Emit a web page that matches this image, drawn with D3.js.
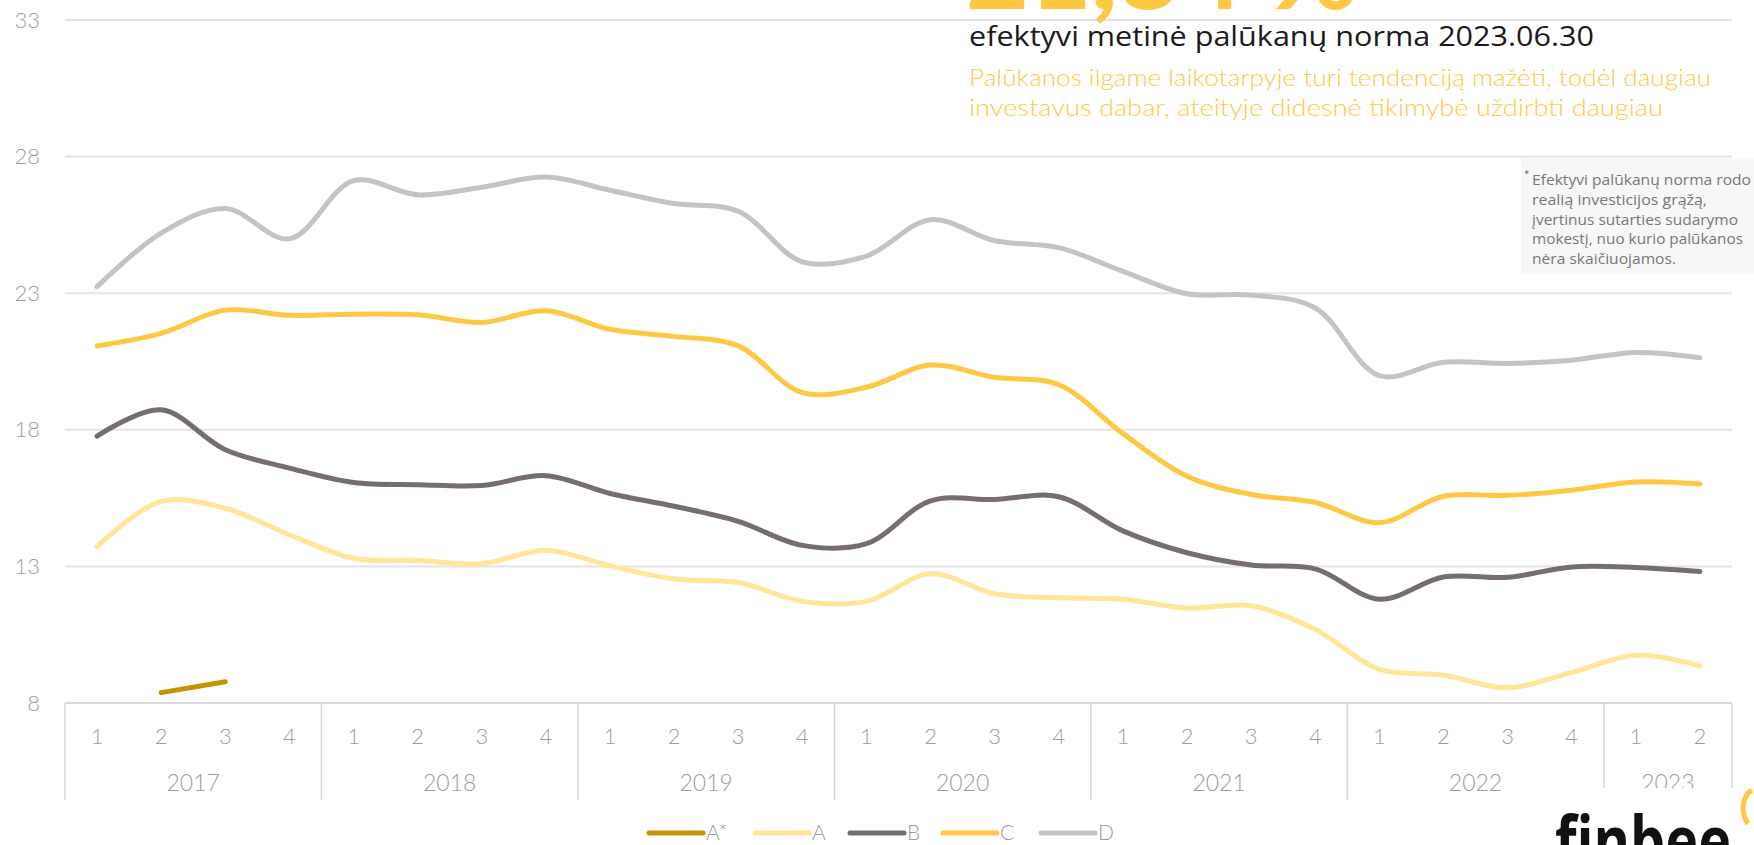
<!DOCTYPE html>
<html><head><meta charset="utf-8">
<script src="https://cdn.jsdelivr.net/npm/d3@7"></script>
<style>
html,body{margin:0;padding:0;background:#fff;overflow:hidden}
svg{display:block}
</style></head>
<body>
<svg id="c" width="1754" height="845"></svg>
<script>
const years = ["2017","2018","2019","2020","2021","2022","2023"];
const quarters = ["1","2","3","4","1","2","3","4","1","2","3","4","1","2","3","4","1","2","3","4","1","2","3","4","1","2"];
const yTicks = [8,13,18,23,28,33];
const seriesNames = ["A*","A","B","C","D"];
const seriesColors = ["#c49500","#ffe699","#756e6c","#ffc844","#c4c4c4"];
const valuesAstar = [null,8.38,8.78,null,null,null,null,null,null,null,null,null,null,null,null,null,null,null,null,null,null,null,null,null,null,null];
const valuesA = [13.73,15.38,15.13,14.16,13.3,13.22,13.1,13.59,13.02,12.54,12.41,11.72,11.72,12.73,12.0,11.85,11.8,11.47,11.56,10.69,9.24,9.02,8.56,9.12,9.75,9.36];
const valuesB = [17.77,18.73,17.27,16.6,16.07,15.99,15.96,16.32,15.67,15.2,14.65,13.77,13.83,15.4,15.45,15.55,14.3,13.5,13.05,12.91,11.8,12.61,12.6,12.98,12.96,12.81];
const valuesC = [21.07,21.53,22.38,22.19,22.23,22.21,21.93,22.36,21.68,21.42,21.07,19.36,19.56,20.37,19.92,19.65,17.86,16.3,15.63,15.34,14.6,15.57,15.6,15.79,16.09,16.02];
const valuesD = [23.24,25.2,26.1,24.99,27.12,26.6,26.88,27.25,26.77,26.28,26.0,24.15,24.36,25.69,24.92,24.67,23.8,22.98,22.93,22.46,19.98,20.47,20.43,20.55,20.83,20.64];
const allValues = [valuesAstar, valuesA, valuesB, valuesC, valuesD];
const headline = "21,34 %";
const subtitle = "efektyvi metinė palūkanų norma 2023.06.30";
const note1 = "Palūkanos ilgame laikotarpyje turi tendenciją mažėti, todėl daugiau";
const note2 = "investavus dabar, ateityje didesnė tikimybė uždirbti daugiau";
const footnote = ["Efektyvi palūkanų norma rodo","realią investicijos grąžą,","įvertinus sutarties sudarymo","mokestį, nuo kurio palūkanos","nėra skaičiuojamos."];

const svg = d3.select("#c");
const x = d3.scaleBand().domain(d3.range(quarters.length)).range([65,1732]).padding(0);
const y = d3.scaleLinear().domain([8,33]).range([703,20]);
const cx = i => x(i) + x.bandwidth()/2;
const FONT = "Lato, 'Open Sans', sans-serif";
const grey = "#9d9d9d";

// gridlines
svg.append("g").selectAll("line").data(yTicks.filter(t=>t>8)).join("line")
  .attr("x1",65).attr("x2",1732).attr("y1",d=>y(d)).attr("y2",d=>y(d))
  .attr("stroke","#e4e4e4").attr("stroke-width",2);

// y axis labels
const yAxis = d3.axisLeft(y).tickValues(yTicks).tickSize(0).tickPadding(0);
const ya = svg.append("g").attr("transform","translate(40,0)").call(yAxis);
ya.select(".domain").remove();
ya.selectAll("text").attr("font-family",FONT).attr("font-size",22).attr("font-weight",300).attr("fill",grey);

// x axis baseline
svg.append("line").attr("x1",65).attr("x2",1732).attr("y1",y(8)).attr("y2",y(8))
  .attr("stroke","#d9d9d9").attr("stroke-width",2);

// quarter labels
const xAxis = d3.axisBottom(x).tickFormat(i=>quarters[i]).tickSize(0).tickPadding(0);
const xa = svg.append("g").attr("transform",`translate(0,${y(8)})`).call(xAxis);
xa.select(".domain").remove();
xa.selectAll("text").attr("dy",null).attr("y",41).attr("font-family",FONT).attr("font-size",22).attr("font-weight",300).attr("fill",grey);

// year separators and labels
const sepIdx = years.map((yr,k)=>k*4).concat([quarters.length]);
svg.append("g").selectAll("line").data(sepIdx).join("line")
  .attr("x1",i=> i<quarters.length ? x(i) : x(quarters.length-1)+x.bandwidth())
  .attr("x2",i=> i<quarters.length ? x(i) : x(quarters.length-1)+x.bandwidth())
  .attr("y1",y(8)).attr("y2",800).attr("stroke","#d9d9d9").attr("stroke-width",1.5);
svg.append("g").selectAll("text").data(years).join("text")
  .attr("x",(d,k)=>{const s=k*4, e=Math.min(k*4+3, quarters.length-1); return (x(s)+x(e)+x.bandwidth())/2;})
  .attr("y",791).attr("text-anchor","middle").attr("font-family",FONT).attr("font-size",23).attr("font-weight",300).attr("fill",grey)
  .text(d=>d);

// lines
const line = d3.line().defined(d=>d!=null).x((d,i)=>cx(i)).y(d=>y(d)).curve(d3.curveCatmullRom.alpha(0.5));
svg.append("g").selectAll("path").data(allValues).join("path")
  .attr("d",d=>line(d)).attr("fill","none").attr("stroke",(d,k)=>seriesColors[k])
  .attr("stroke-width",5).attr("stroke-linecap","round").attr("stroke-linejoin","round");

// header
svg.append("text").attr("x",966).attr("y",9).attr("font-family","Lato, sans-serif").attr("font-weight",900)
  .attr("font-size",100).attr("fill","#ffc844").attr("textLength",392).attr("lengthAdjust","spacingAndGlyphs").text(headline);
svg.append("text").attr("x",969).attr("y",46).attr("font-family","'Open Sans', sans-serif").attr("font-weight",400)
  .attr("font-size",27).attr("fill","#1a1a1a").attr("textLength",625).attr("lengthAdjust","spacingAndGlyphs").text(subtitle);
svg.append("text").attr("x",969).attr("y",86).attr("font-family",FONT).attr("font-weight",300)
  .attr("font-size",23).attr("fill","#ffc844").attr("textLength",742).attr("lengthAdjust","spacingAndGlyphs").text(note1);
svg.append("text").attr("x",969).attr("y",116).attr("font-family",FONT).attr("font-weight",300)
  .attr("font-size",23).attr("fill","#ffc844").attr("textLength",694).attr("lengthAdjust","spacingAndGlyphs").text(note2);

// footnote box
svg.append("rect").attr("x",1521).attr("y",158).attr("width",233).attr("height",116).attr("fill","#f7f7f7");
svg.append("text").attr("x",1524).attr("y",180).attr("font-family",FONT).attr("font-size",13).attr("fill","#666").text("*");
svg.append("g").selectAll("text").data(footnote).join("text")
  .attr("x",1532).attr("y",(d,i)=>185+i*19.8).attr("font-family","'Open Sans', sans-serif").attr("font-size",15).attr("fill","#777")
  .attr("textLength",(d,i)=>[219,175,206,211,144][i]).attr("lengthAdjust","spacingAndGlyphs").text(d=>d);

// legend
const legX = [649,755,850,943,1041];
const lg = svg.append("g").selectAll("g").data(seriesNames).join("g").attr("transform",(d,k)=>`translate(${legX[k]},833)`);
lg.append("line").attr("x1",0).attr("x2",54).attr("stroke",(d,k)=>seriesColors[k]).attr("stroke-width",5).attr("stroke-linecap","round");
lg.append("text").attr("x",57).attr("y",7).attr("font-family",FONT).attr("font-weight",300).attr("font-size",21).attr("fill",grey).text(d=>d);

// logo
svg.append("rect").attr("x",1535).attr("y",788).attr("width",219).attr("height",57).attr("fill","#fff");
svg.append("text").attr("x",1555).attr("y",866).attr("font-family","'Open Sans', sans-serif").attr("font-weight",700)
  .attr("font-size",70).attr("fill","#111").attr("textLength",176).attr("lengthAdjust","spacingAndGlyphs").text("finbee");
svg.append("path").attr("d","M1752,790 C1742,796 1740,812 1748,824").attr("fill","none").attr("stroke","#ffc844").attr("stroke-width",5);
</script>
</body></html>
